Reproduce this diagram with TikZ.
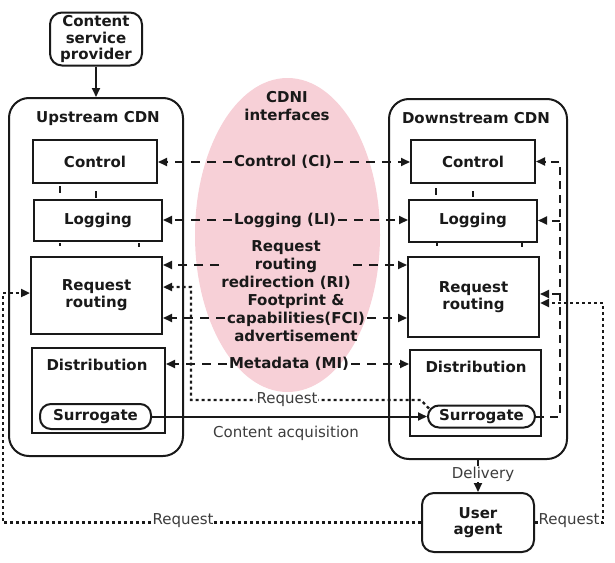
\documentclass[tikz,border=0pt]{standalone}
\usepackage{fontspec}
\setmainfont{DejaVu Sans}
\usetikzlibrary{arrows.meta,calc}
\definecolor{ink}{RGB}{25,25,25}
\definecolor{soft}{RGB}{60,60,60}
\definecolor{cdnipink}{RGB}{247,208,215}

\begin{document}
\begin{tikzpicture}[x=1pt,y=-1pt,
  every node/.style={font=\fontsize{15}{16.5}\selectfont\bfseries, text=ink},
  box/.style={draw=ink, line width=2pt, inner sep=0pt, align=center},
  cdn/.style={draw=ink, line width=2pt, rounded corners=20pt, inner sep=0pt},
  pill/.style={draw=ink, line width=2pt, rounded corners=11pt, inner sep=0pt},
  rbox/.style={draw=ink, line width=2pt, rounded corners=12pt, inner sep=0pt, align=center},
  lbl/.style={font=\fontsize{15}{16.5}\selectfont, text=soft, inner sep=1pt},
  iface/.style={align=center, inner sep=2pt, font=\fontsize{15}{18}\selectfont\bfseries},
  tip/.style={-{Triangle[length=9pt,width=8pt]}},
  solidline/.style={draw=ink, line width=2pt},
  dashline/.style={draw=ink, line width=2pt, dash pattern=on 9pt off 7pt},
  sdash/.style={draw=ink, line width=2pt, dash pattern=on 8pt off 6pt},
  dotline/.style={draw=ink, line width=2.3pt, dash pattern=on 3pt off 3pt},
  tick/.style={draw=ink, line width=2pt}
]
\useasboundingbox (0,0) rectangle (615,562);

% CDNI interface region
\fill[cdnipink] (287.5,235) ellipse [x radius=92.5, y radius=157];

% Content service provider
\node[rbox, minimum width=92, minimum height=53] (csp) at (96,39) {Content\\service\\provider};

% Upstream CDN
\node[cdn, minimum width=174, minimum height=358] (ucdn) at (96,277) {};
\node (uttl) at (98,118) {Upstream CDN};
\node[box, minimum width=124, minimum height=43] (uctl) at (95,161.5) {Control};
\node[box, minimum width=128, minimum height=41] (ulog) at (98,220.5) {Logging};
\node[box, minimum width=131, minimum height=77] (urr) at (96.5,295) {Request\\routing};
\node[box, minimum width=133, minimum height=85] (udist) at (98.5,390.5) {};
\node (udistt) at (97,365) {Distribution};
\node[pill, minimum width=111, minimum height=25] (usur) at (95.5,416.5) {Surrogate};

% Downstream CDN
\node[cdn, minimum width=178, minimum height=360] (dcdn) at (478,279) {};
\node (dttl) at (476,118) {Downstream CDN};
\node[box, minimum width=124, minimum height=43] (dctl) at (473,161.5) {Control};
\node[box, minimum width=128, minimum height=42] (dlog) at (473,220.5) {Logging};
\node[box, minimum width=131, minimum height=80] (drr) at (473.5,297) {Request\\routing};
\node[box, minimum width=131, minimum height=86] (ddist) at (475.5,393) {};
\node (ddistt) at (476,367) {Distribution};
\node[pill, minimum width=107, minimum height=22] (dsur) at (481.5,416.5) {Surrogate};

% User agent
\node[rbox, minimum width=112, minimum height=59] (ua) at (478,522.5) {User\\agent};

% Interface labels
\node[iface] (cdni) at (287,106) {CDNI\\interfaces};
\node[iface] (ci) at (283,162) {Control (CI)};
\node[iface] (li) at (285,220) {Logging (LI)};
\node[iface] (ri) at (286,265) {Request\\routing\\redirection (RI)};
\node[iface] (fci) at (296,318) {Footprint \&\\capabilities(FCI)\\advertisement};
\node[iface] (mi) at (289,364) {Metadata (MI)};

% Interface connectors
\draw[dashline, tip] (ci.west) -- (uctl.east |- ci.west);
\draw[dashline, tip] (ci.east) -- (dctl.west |- ci.east);
\draw[dashline, tip] (li.west) -- (ulog.east |- li.west);
\draw[dashline, tip] (li.east) -- (dlog.west |- li.east);
\draw[dashline, tip] (ri.west) -- (urr.east |- ri.west);
\draw[dashline, tip] (ri.east) -- (drr.west |- ri.east);
\draw[dashline, tip] (fci.west) -- (urr.east |- fci.west);
\draw[dashline, tip] (fci.east) -- (drr.west |- fci.east);
\draw[dashline, tip] (mi.west) -- (udist.east |- mi.west);
\draw[dashline, tip] (mi.east) -- (ddist.west |- mi.east);

% Provider feeds the upstream CDN
\draw[solidline, tip] (csp.south) -- (ucdn.north);

% Content acquisition between surrogates
\draw[solidline, tip] (usur.east) -- (dsur.west);
\node[lbl] (acq) at (286,433) {Content acquisition};

% Request from downstream surrogate back to upstream request routing
\coordinate (rqa) at (421,400);
\coordinate (rqb) at (191,400);
\coordinate (rqc) at (0,287);
\draw[dotline, tip] ($(dsur.west)+(2,-8)$) -- (rqa) -- (rqb) |- (urr.east |- rqc);
\node[lbl, fill=white] (req1) at (287,400) {Request};

% Downstream internal feedback bus
\coordinate (bus) at (560,0);
\coordinate (rrin) at (0,294);
\draw[sdash, tip] (dsur.east) -| (bus |- dctl.east) -- (dctl.east);
\draw[sdash, tip] (bus |- dlog.east) -- (dlog.east);
\draw[sdash, tip] (bus |- rrin) -- (drr.east |- rrin);

% Requests from the user agent
\coordinate (rcr) at (603,303);
\draw[dotline, tip] (ua.east) -| (rcr) -- (drr.east |- rcr);
\node[lbl, fill=white] (req2) at (569,521) {Request};
\coordinate (lcr) at (3,293);
\draw[dotline, tip] (ua.west) -| (lcr) -- (urr.west |- lcr);
\node[lbl, fill=white] (req3) at (183,521) {Request};

% Delivery to the user agent
\draw[solidline, tip] (dcdn.south) -- (ua.north);
\node[lbl, fill=white, inner sep=0.5pt] (dlv) at (483,474) {Delivery};

% Short links between stacked functions
\draw[tick] (60,186) -- (60,193);
\draw[tick] (96,191) -- (96,198);
\draw[tick] (60,243) -- (60,246);
\draw[tick] (139,243) -- (139,247);
\draw[tick] (436,188) -- (436,195);
\draw[tick] (473,191) -- (473,197);
\draw[tick] (437,243) -- (437,246);
\draw[tick] (522,243) -- (522,247);
\end{tikzpicture}
\end{document}
